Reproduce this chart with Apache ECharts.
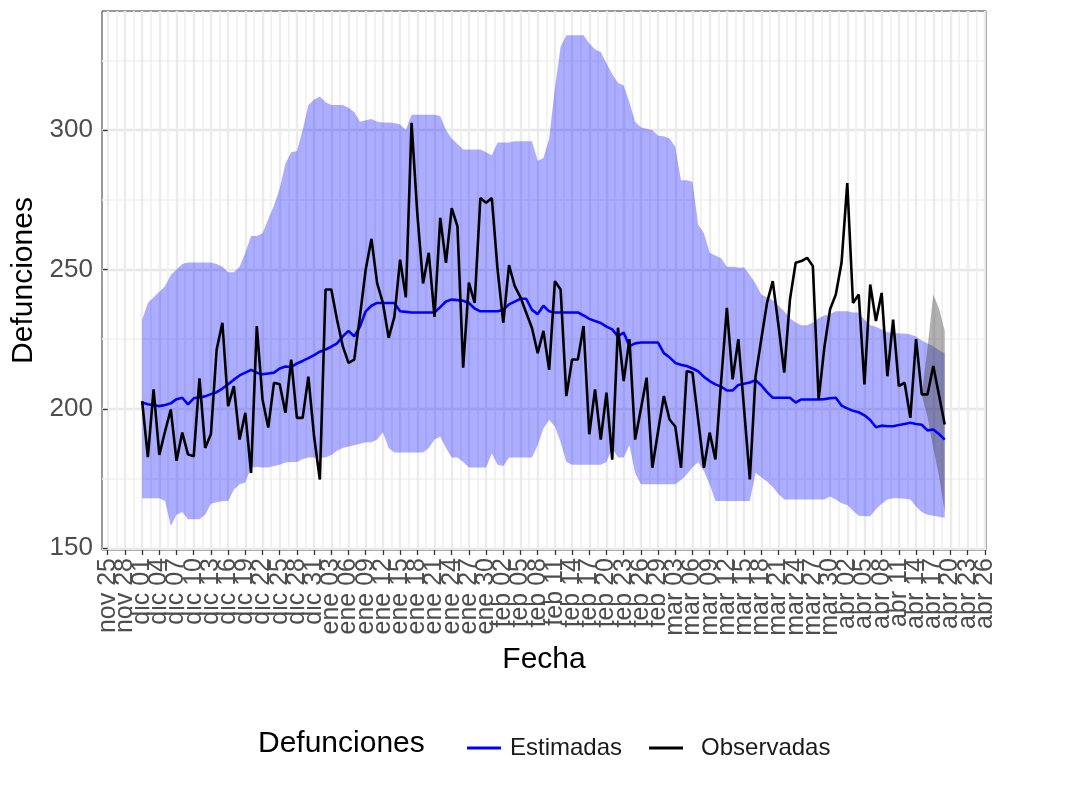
<!DOCTYPE html>
<html><head><meta charset="utf-8">
<script src="https://cdn.jsdelivr.net/npm/echarts@6/dist/echarts.min.js"></script>
<style>html,body{margin:0;padding:0;background:#fff}#c{width:1080px;height:806px}</style>
</head><body><div id="c"></div>
<script>
// x tick labels, every 3 days starting nov 25 (position = days since nov 25)
const tickLabels = ['nov 25','nov 28','dic 01','dic 04','dic 07','dic 10','dic 13','dic 16','dic 19','dic 22','dic 25','dic 28','dic 31',
  'ene 03','ene 06','ene 09','ene 12','ene 15','ene 18','ene 21','ene 24','ene 27','ene 30',
  'feb 02','feb 05','feb 08','feb 11','feb 14','feb 17','feb 20','feb 23','feb 26','feb 29',
  'mar 03','mar 06','mar 09','mar 12','mar 15','mar 18','mar 21','mar 24','mar 27','mar 30',
  'abr 02','abr 05','abr 08','abr 11','abr 14','abr 17','abr 20','abr 23','abr 26'];
const yTickLabels = [150, 200, 250, 300];
const firstDay = 6; // dic 01 = 6 days after nov 25; series are daily from dic 01 to abr 19

const upper = [232,238,240,242,244,248,250,252,252.5,252.5,
252.5,252.5,252.5,252,251,249,249,251,256,262,
262,263,268,273,279,288,292,292.5,300,309,
311,312,310,309,309,309,308,306.5,303,303.5,
304,303,302.7,302.7,302.5,302,300,305.5,305.5,305.5,
305.5,305.5,305,300,297,295,293,293,293,293,
292,291,295.5,295.5,295.5,296,296,296,296,289,
290,297,315,330,334,334,334,334,331,329,
328,324,320,317,316,310,303,301,300.5,300,
298,297.8,297,294,282,282,281.5,266,263,256,
255,254,251,251,250.7,250.7,248,245,241,240,
239,237,235,232.5,231,230,230,231,232.5,233.5,
234,235,235,235,234.6,234.6,232,230,229.5,228.5,
227.5,227.4,227,227,226.7,226,224.5,223.5,222.5,221,
220];
const lower = [168,168,168,168,167,158,162,163,160.4,160.4,
160.4,162,166,166.5,167,167,171,173,173.6,179,
179.2,179,179,179.5,180,180.8,181,181,182,182.6,
182.6,182.6,182.6,183.5,185,186,186.5,187,187.5,188,
188,189,191.6,186,184.4,184.4,184.4,184.4,184.4,184.4,
186,189,190,186,182.6,182.6,181,179,179,179,
179,184,180,179.5,182.6,182.6,182.6,182.6,182.6,187,
193,196,193.7,188,181,180,180,180,180,180,
180,181,186,182.6,182.6,187,177,173,173,173,
173,173,173,173,174.5,176.5,179,181,177.6,173,
167,167,167,167,167,167,167,177,175.5,174,
172,169.5,167.5,167.5,167.5,167.5,167.5,167.5,167.5,167.5,
168.6,167.5,166.2,165.5,163.5,161.7,161.5,161.5,164,166,
167.5,168,168,167.8,167.5,165,163,162,161.7,161.3,
161];
const estimadas = [202.3,201.7,201.3,201,201.4,202,203.5,204,201.6,203.8,
204.2,204.5,205.3,206,207.3,208.8,210.5,212,213,214,
213,212.4,212.7,213,214.5,215.2,215,216.3,217.2,218.2,
219.3,220.5,221.3,222.3,223.5,226,228,226,229.5,235,
237,238,238,238,238,235,234.8,234.6,234.6,234.6,
234.6,234.6,236.5,238.5,239.2,239,238.8,238,236,235,
235,235,235,235.5,237.5,238.5,239.5,239.5,235.5,234,
237,235,234.6,234.6,234.6,234.6,234.6,233.5,232.3,231.5,
230.8,229.5,228.5,226,227.4,222.5,223.5,223.8,223.8,223.8,
223.8,220,218.5,216.5,215.8,215.4,214.5,213.5,211.5,210,
208.8,208,206.6,206.6,208.6,209,209.5,210.3,208.5,206,
204,204,204,204,202.3,203.4,203.4,203.4,203.4,203.5,
203.8,204,201.2,200.2,199.3,198.8,197.7,196,193.4,194,
193.8,193.8,194.2,194.6,195,194.6,194.3,192.3,192.6,191,
189];
const observadas = [202.8,182.7,207,183.5,192,199.8,181.4,191.5,183.7,183,
211,186,191,221.3,230.9,201,208.2,189,198.6,177,
229.7,203.4,193.3,209.4,208.8,198.6,217.7,196.8,196.8,211.6,
190,174.7,242.8,242.8,232,222.5,216.5,217.7,233.3,250,
261,245,238,225.5,233,253.5,240,302.6,270,245,
256,233,268.5,252.4,272,265.5,214.8,245.3,238,275.6,
273.9,275.6,250,230.9,251.6,244,240,234.5,229,220,
228,214,245.8,242.8,204.6,217.7,217.7,229.7,190.9,207,
189,205.8,181.8,229.1,210,225,189,200,211.2,178.9,
192,204.6,196.2,193.7,178.9,213.6,213,196,178.9,191.5,
181.9,210,236.2,210.6,225,200,174.7,211.6,225,238,
245.8,230,213,239.2,252.4,253,254.2,251.2,203.4,222,
235.7,241,252.4,281,238,241,208.8,244.6,231.5,241.6,
211.7,232,208.2,209.4,196.8,225,205.2,205.2,215.4,205,
194.4];
// grey band at the end (abr 15 .. abr 19)
const greyStart = 136;
const greyUpper = [205, 222, 241, 236, 228];
const greyLower = [205, 197, 186, 176, 163];

const FONT = '"Liberation Sans", Arial, sans-serif';
const pos = observadas.map((_, i) => i + firstDay);
const greyPos = greyUpper.map((_, i) => i + greyStart + firstDay);
const majorX = tickLabels.map((_, k) => k * 3);
const evenX = majorX.filter((_, k) => k % 2 === 0);
const oddX = majorX.filter((_, k) => k % 2 === 1);
const minorX = majorX.slice(0, -1).map(v => v + 1.5);
const yMinor = [175, 225, 275, 325];
const xMin = -1, xMax = 153.2, yMin = 149.4, yMax = 342.7;

function band(p, lo, hi, fill) {
  return {
    type: 'custom', silent: true, xAxisIndex: 0, yAxisIndex: 0,
    data: p.map((x, i) => [x, lo[i], hi[i]]),
    encode: {x: 0, y: [1, 2]},
    renderItem: function (params, api) {
      if (params.dataIndex !== 0) return null;
      const pts = [];
      for (let i = 0; i < p.length; i++) pts.push(api.coord([p[i], hi[i]]));
      for (let i = p.length - 1; i >= 0; i--) pts.push(api.coord([p[i], lo[i]]));
      return {type: 'polygon', shape: {points: pts}, style: {fill: fill}};
    }
  };
}
const xLabelStyle = {show: true, rotate: 90, margin: 8, fontSize: 25, color: '#4d4d4d', fontFamily: FONT,
  showMinLabel: true, showMaxLabel: true, hideOverlap: false,
  formatter: v => tickLabels[Math.round(v / 3)] || ''};

const chart = echarts.init(document.getElementById('c'), null, {renderer: 'canvas'});
chart.setOption({
  animation: false,
  backgroundColor: '#fff',
  textStyle: {fontFamily: FONT},
  grid: {left: 102, right: 94, top: 11, bottom: 256, show: true, borderColor: '#333', borderWidth: 1, backgroundColor: 'transparent', outerBoundsMode: 'none'},
  xAxis: [
    {type: 'value', min: xMin, max: xMax, position: 'bottom',
     axisLine: {show: false},
     axisTick: {show: true, customValues: majorX, length: 5, lineStyle: {color: '#333', width: 1.3}},
     axisLabel: Object.assign({customValues: evenX}, xLabelStyle),
     splitLine: {show: true, lineStyle: {color: '#ebebeb', width: 2.4}},
     name: 'Fecha', nameLocation: 'middle', nameGap: 95,
     nameTextStyle: {fontSize: 30, color: '#000', fontFamily: FONT}},
    {type: 'value', min: xMin, max: xMax, position: 'bottom',
     axisLine: {show: false}, axisLabel: {show: false},
     axisTick: {show: false, customValues: minorX},
     splitLine: {show: true, lineStyle: {color: '#efefef', width: 1.6}}},
    {type: 'value', min: xMin, max: xMax, position: 'bottom',
     axisLine: {show: false}, splitLine: {show: false},
     axisTick: {show: false, customValues: oddX},
     axisLabel: Object.assign({customValues: oddX}, xLabelStyle)}
  ],
  yAxis: [
    {type: 'value', min: yMin, max: yMax, position: 'left',
     axisLine: {show: false},
     axisTick: {show: true, customValues: yTickLabels, length: 5, lineStyle: {color: '#333', width: 1.3}},
     axisLabel: {show: true, customValues: yTickLabels, margin: 9, fontSize: 26, color: '#4d4d4d', fontFamily: FONT,
       showMinLabel: true, showMaxLabel: true},
     splitLine: {show: true, lineStyle: {color: '#e8e8e8', width: 2.4}},
     name: 'Defunciones', nameLocation: 'middle', nameGap: 63, nameRotate: 90,
     nameTextStyle: {fontSize: 30, color: '#000', fontFamily: FONT}},
    {type: 'value', min: yMin, max: yMax, position: 'left',
     axisLine: {show: false}, axisLabel: {show: false},
     axisTick: {show: false, customValues: yMinor},
     splitLine: {show: true, lineStyle: {color: '#f0f0f0', width: 1.6}}}
  ],
  legend: {
    data: ['Estimadas', {name: 'Observadas', textStyle: {padding: [0, 0, 0, 13]}}],
    left: 462, top: 731, icon: 'rect',
    itemWidth: 34, itemHeight: 3, itemGap: 27,
    textStyle: {fontSize: 24, color: '#1a1a1a', fontFamily: FONT, padding: [0, 0, 0, 4]}
  },
  graphic: [{type: 'text', left: 258, top: 729, style: {text: 'Defunciones', font: '30px ' + FONT, fill: '#000'}}],
  series: [
    band(pos, lower, upper, 'rgba(0,0,255,0.32)'),
    band(greyPos, greyLower, greyUpper, 'rgba(60,60,60,0.4)'),
    {name: 'Estimadas', type: 'line', xAxisIndex: 0, yAxisIndex: 0, showSymbol: false, symbol: 'none',
     data: pos.map((x, i) => [x, estimadas[i]]), itemStyle: {color: '#0000ff'},
     lineStyle: {color: '#0000ff', width: 2.6}, z: 3},
    {name: 'Observadas', type: 'line', xAxisIndex: 0, yAxisIndex: 0, showSymbol: false, symbol: 'none',
     data: pos.map((x, i) => [x, observadas[i]]), itemStyle: {color: '#000'},
     lineStyle: {color: '#000', width: 2.6}, z: 4}
  ]
});
</script></body></html>
